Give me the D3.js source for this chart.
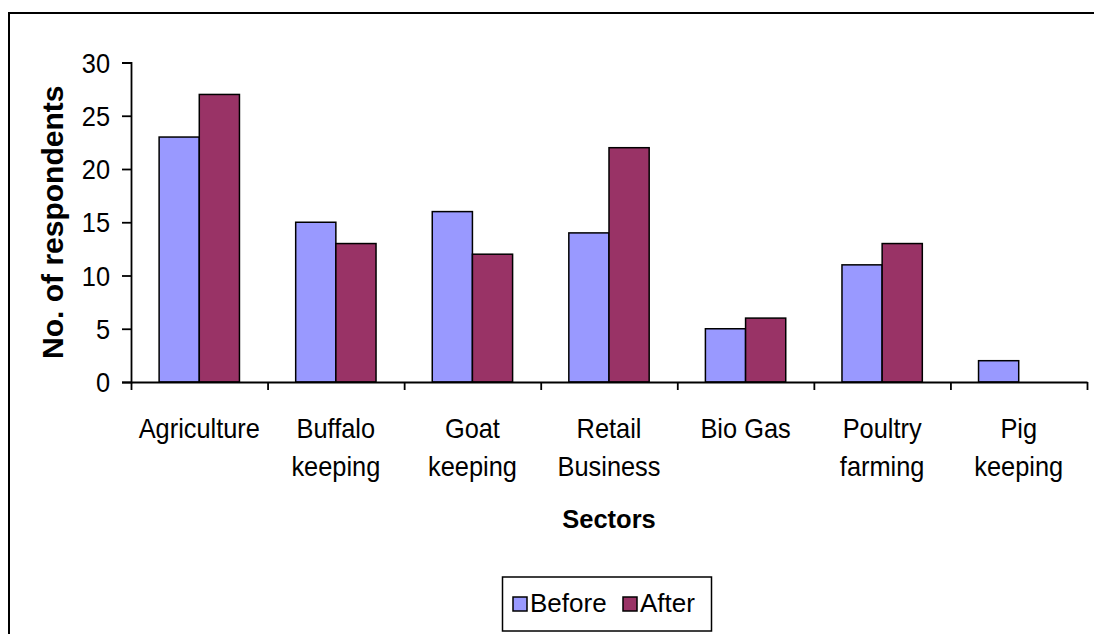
<!DOCTYPE html>
<html>
<head>
<meta charset="utf-8">
<script src="https://cdn.jsdelivr.net/npm/d3@7"></script>
<style>
  html, body { margin: 0; padding: 0; background: #fff; }
  svg { display: block; font-family: "Liberation Sans", Arial, sans-serif; }
</style>
</head>
<body>
<svg id="chart" width="1094" height="634"></svg>
<script>
// Sectors and respondent counts before / after
const sectors = [
  ["Agriculture"],
  ["Buffalo", "keeping"],
  ["Goat", "keeping"],
  ["Retail", "Business"],
  ["Bio Gas"],
  ["Poultry", "farming"],
  ["Pig", "keeping"]
];
const seriesNames = ["Before", "After"];
const beforeValues = [23, 15, 16, 14, 5, 11, 2];
const afterValues = [27, 13, 12, 22, 6, 13, 0];
const yTicks = [0, 5, 10, 15, 20, 25, 30];
const seriesColors = ["#9999FF", "#993366"];

const svg = d3.select("#chart");
const textSize = 27, narrow = 0.94;

// outer chart frame (extends past the right and bottom of the view)
svg.append("rect")
  .attr("x", 9).attr("y", 13)
  .attr("width", 1100).attr("height", 640)
  .attr("fill", "none").attr("stroke", "#000").attr("stroke-width", 2);

const plotLeft = 131, plotRight = 1087, plotTop = 62.5, plotBottom = 382;

const x0 = d3.scaleBand()
  .domain(d3.range(sectors.length))
  .range([plotLeft, plotRight])
  .padding(0);

const x1 = d3.scaleBand()
  .domain(seriesNames)
  .range([0, x0.bandwidth()])
  .paddingInner(0)
  .paddingOuter(0.7);

const y = d3.scaleLinear().domain([0, 30]).range([plotBottom, plotTop]);

const rows = sectors.map((s, i) => ({
  i,
  values: [
    { key: "Before", v: beforeValues[i] },
    { key: "After", v: afterValues[i] }
  ]
}));

// bars
const groups = svg.append("g").selectAll("g")
  .data(rows).join("g")
  .attr("transform", d => `translate(${x0(d.i)},0)`);

groups.selectAll("rect")
  .data(d => d.values.filter(e => e.v > 0))
  .join("rect")
  .attr("x", e => x1(e.key))
  .attr("y", e => y(e.v))
  .attr("width", x1.bandwidth())
  .attr("height", e => y(0) - y(e.v))
  .attr("fill", e => seriesColors[seriesNames.indexOf(e.key)])
  .attr("stroke", "#000")
  .attr("stroke-width", 1.5);

// y axis
const yAxis = svg.append("g")
  .attr("transform", `translate(${plotLeft},0)`)
  .call(d3.axisLeft(y).tickValues(yTicks).tickSize(9).tickPadding(12));
yAxis.select(".domain").attr("stroke", "#000").attr("stroke-width", 1.8);
yAxis.selectAll(".tick line").attr("stroke", "#000").attr("stroke-width", 1.8);
yAxis.selectAll(".tick text")
  .attr("font-size", textSize).attr("fill", "#000")
  .attr("font-family", "Liberation Sans, Arial, sans-serif")
  .attr("x", 0)
  .attr("dy", "0.36em")
  .attr("transform", `translate(-21,0) scale(${narrow},1)`);

// x axis with ticks at category boundaries
const xAxisScale = d3.scaleLinear().domain([0, sectors.length]).range([plotLeft, plotRight]);
const xAxis = svg.append("g")
  .attr("transform", `translate(0,${plotBottom})`)
  .call(d3.axisBottom(xAxisScale).tickValues(d3.range(sectors.length + 1)).tickSize(8).tickSizeOuter(0).tickFormat(""));
xAxis.select(".domain").attr("stroke", "#000").attr("stroke-width", 1.8);
xAxis.selectAll(".tick line").attr("stroke", "#000").attr("stroke-width", 1.8);

// category labels
const cat = svg.append("g").selectAll("text")
  .data(sectors.map((lines, i) => ({ lines, i })))
  .join("text")
  .attr("text-anchor", "middle")
  .attr("font-size", textSize)
  .attr("fill", "#000")
  .attr("transform", d => `translate(${x0(d.i) + x0.bandwidth() / 2},438) scale(${narrow},1)`);
cat.selectAll("tspan")
  .data(d => d.lines)
  .join("tspan")
  .attr("x", 0)
  .attr("y", (t, j) => j * 38)
  .text(t => t);

// axis titles
svg.append("text")
  .attr("x", (plotLeft + plotRight) / 2).attr("y", 528)
  .attr("text-anchor", "middle")
  .attr("font-size", 25.5).attr("font-weight", "bold")
  .text("Sectors");

svg.append("text")
  .attr("transform", `translate(63,${(plotTop + plotBottom) / 2}) rotate(-90)`)
  .attr("text-anchor", "middle")
  .attr("font-size", 30).attr("font-weight", "bold")
  .text("No. of respondents");

// legend
const legend = svg.append("g");
legend.append("rect")
  .attr("x", 502.5).attr("y", 577)
  .attr("width", 209).attr("height", 54)
  .attr("fill", "#fff").attr("stroke", "#000").attr("stroke-width", 1.5);

const legendX = [513, 623];
const items = legend.selectAll("g.item")
  .data(seriesNames)
  .join("g")
  .attr("class", "item")
  .attr("transform", (d, i) => `translate(${legendX[i]},597)`);
items.append("rect")
  .attr("width", 14).attr("height", 14)
  .attr("fill", (d, i) => seriesColors[i])
  .attr("stroke", "#000").attr("stroke-width", 1.5);
items.append("text")
  .attr("x", 17).attr("y", 15)
  .attr("font-size", 26).attr("fill", "#000")
  .text(d => d);
</script>
</body>
</html>
